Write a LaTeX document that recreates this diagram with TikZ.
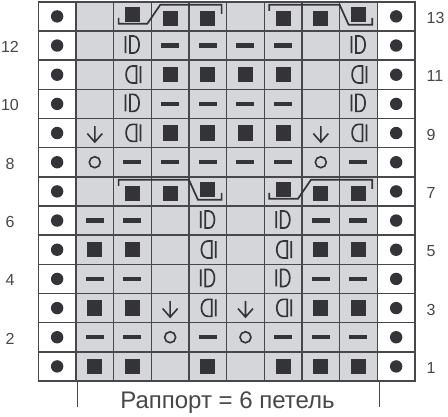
\documentclass[tikz,border=0pt]{standalone}
\usepackage{fontspec}
\setmainfont{Liberation Sans}
\definecolor{ink}{RGB}{52,52,56}
\definecolor{cellgray}{RGB}{212,214,217}
\definecolor{txt}{RGB}{72,72,72}
\tikzset{
  gridline/.style={draw=ink!90, line width=1.5pt},
  cab/.style={draw=ink, line width=1.7pt, line join=miter},
  num/.style={text=txt, font=\fontsize{16}{16}\selectfont, inner sep=0pt},
}
\newcommand\ksymS{\fill[ink] (-7.6,-7.6) rectangle (7.6,7.6);}
\newcommand\ksymU{\fill[ink] (-7.6,-5.3) rectangle (7.6,9.9);}
\newcommand\ksymL{\fill[ink] (-7.6,-9.7) rectangle (7.6,5.5);}
\newcommand\ksymD{\fill[ink] (-9,-2.2) rectangle (9,2.2);}
\newcommand\ksymO{\draw[ink,line width=1.6pt] (0,0) circle (5.5pt);}
\newcommand\ksymE{}
\newcommand\ksymA{\draw[ink,line width=1.6pt] (0,-7) -- (0,9) (-7.5,0.5) -- (0,9) -- (7.5,0.5);}
\newcommand\ksymI{\draw[ink,line width=1.7pt] (-7,-9.5) -- (-7,7.5) (-2.5,-9.5) -- (1,-9.5) .. controls (8.5,-9.5) and (8.5,7.5) .. (1,7.5) -- (-2.5,7.5) -- cycle;}
\newcommand\ksymR{\draw[ink,line width=1.7pt] (8,-8.7) -- (8,8.3) (4,-8.7) -- (0,-8.7) .. controls (-8.5,-8.7) and (-8.5,8.3) .. (0,8.3) -- (4,8.3) -- cycle;}
\newcommand\ksymB{\fill[ink] (0,0) circle (6.2pt);}
\newcommand\symcell[3]{%
  \pgfmathsetmacro\kcx{38.3+(#2-0.5)*37.67}%
  \pgfmathsetmacro\kcy{381-(#3-0.5)*29.17}%
  \begin{scope}[shift={(\kcx,\kcy)}]
    \csname ksym#1\endcsname
  \end{scope}}
\newcommand\krow[2]{\foreach \s [count=\c from 2] in {#2} {\symcell{\s}{\c}{#1}}}
\newcommand\cableA[2]{\draw[cab] (#1+5,#2+16) -- (#1+5,#2+22) -- (#1+33.67,#2+22) -- (#1+46.67,#2+3) -- (#1+108,#2+3) -- (#1+108,#2+12);}
\newcommand\cableB[2]{\draw[cab] (#1+5,#2+9) -- (#1+5,#2+3) -- (#1+75.34,#2+3) -- (#1+84.34,#2+23) -- (#1+108,#2+23) -- (#1+108,#2+16);}
\begin{document}
\begin{tikzpicture}[x=1pt,y=-1pt]
\useasboundingbox (0,0) rectangle (448,416);
\fill[white] (0,0) rectangle (448,416);
\fill[cellgray] (75.97,1.8) rectangle (377.33,381);
\foreach \i in {0,...,10} {\draw[gridline] (38.3+\i*37.67,1.8) -- (38.3+\i*37.67,381);}
\foreach \j in {0,...,13} {\draw[gridline] (37.5,1.8+\j*29.17) -- (415.5,1.8+\j*29.17);}
\draw[gridline] (77.5,381) -- (77.5,407);
\draw[gridline] (379.5,381) -- (379.5,407);
% edge dots
\foreach \r in {1,...,13} {\symcell{B}{1}{\r}\symcell{B}{10}{\r}}
% rows
\krow{1}{S,S,E,S,E,S,S,S}
\krow{2}{D,D,O,D,O,D,D,D}
\krow{3}{S,S,A,R,A,R,S,S}
\krow{4}{D,D,E,I,E,I,D,D}
\krow{5}{S,S,E,R,E,R,S,S}
\krow{6}{D,D,E,I,E,I,D,D}
\krow{7}{E,U,U,L,E,L,U,U}
\krow{8}{O,D,D,D,D,D,O,D}
\krow{9}{A,R,S,S,S,S,A,R}
\krow{10}{E,I,D,D,D,D,E,I}
\krow{11}{E,R,S,S,S,S,E,R}
\krow{12}{E,I,D,D,D,D,E,I}
\krow{13}{E,L,U,U,E,U,U,L}
% cables
\cableA{113.6}{1.8}
\cableB{264.3}{1.8}
\cableB{113.6}{176.8}
\cableA{264.3}{176.8}
% row numbers
\foreach \r in {2,4,...,12} {\node[num] (l\r) at (10,{381-(\r-0.5)*29.17+1.5}) {\r};}
\foreach \r in {1,3,...,13} {\node[num,anchor=west] (r\r) at (426.5,{381-(\r-0.5)*29.17+1.5}) {\r};}
\node[text=txt, font=\fontsize{24}{24}\selectfont, anchor=base, inner sep=0pt] (rap) at (227.5,408) {Раппорт = 6 петель};
\end{tikzpicture}
\end{document}
